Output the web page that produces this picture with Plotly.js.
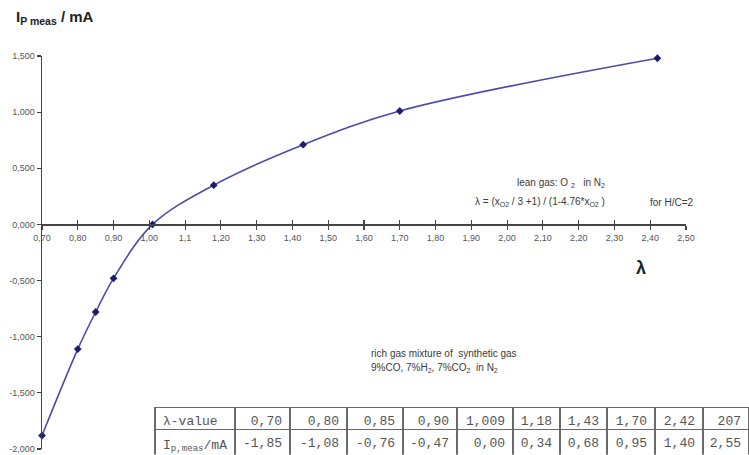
<!DOCTYPE html>
<html>
<head>
<meta charset="utf-8">
<script src="https://cdn.plot.ly/plotly-3.0.1.min.js"></script>
<style>html,body{margin:0;padding:0;background:#fff;}#chart{width:749px;height:455px;}</style>
</head>
<body>
<div id="chart"></div>
<script>
// ---- data ----
const lambdaVals = [0.70, 0.80, 0.85, 0.90, 1.009, 1.18, 1.43, 1.70, 2.42];
const ipMeas     = [-1.88, -1.11, -0.78, -0.48, 0.00, 0.35, 0.71, 1.01, 1.48];

const xTickVals = [0.7,0.8,0.9,1.0,1.1,1.2,1.3,1.4,1.5,1.6,1.7,1.8,1.9,2.0,2.1,2.2,2.3,2.4,2.5];
const xTickText = ['0,70','0,80','0,90','1,00','1,1','1,20','1,30','1,40','1,50','1,60','1,70','1,80','1,90','2,00','2,10','2,20','2,30','2,40','2,50'];
const yTickVals = [-2.0,-1.5,-1.0,-0.5,0.0,0.5,1.0,1.5];
const yTickText = ['-2,000','-1,500','-1,000','-0,500','0,000','0,500','1,000','1,500'];

const tableRowLabels = ['λ-value', 'I<sub>p,meas</sub>/mA'];
const tableLambda = ['0,70','0,80','0,85','0,90','1,009','1,18','1,43','1,70','2,42','207'];
const tableIp     = ['-1,85','-1,08','-0,76','-0,47','0,00','0,34','0,68','0,95','1,40','2,55'];

// ---- layout helpers ----
const W = 749, H = 455, ML = 42, MT = 56;
const PW = W - ML, PH = H - MT;
const px = x => (x - ML) / PW;
const py = y => (H - y) / PH;
const yDom0 = py(449);
const xDom1 = px(686);
const yMin = -2, yMax = 1.5;
const zeroPos = yDom0 + (0 - yMin) / (yMax - yMin) * (1 - yDom0);

const textFont = {family: 'Liberation Sans, Arial, sans-serif', size: 10, color: '#3a3a3a'};
const mono = {family: 'Liberation Mono, Courier New, monospace', size: 13, color: '#555'};

const traces = [
  {
    type: 'scatter', mode: 'lines+markers',
    x: lambdaVals, y: ipMeas,
    line: {color: '#4b4bab', width: 1.6, shape: 'spline', smoothing: 1},
    marker: {symbol: 'diamond', size: 6, color: '#1c1c70'},
    cliponaxis: false, hoverinfo: 'x+y'
  },
  {type: 'scatter', mode: 'markers', x: [], y: [], xaxis: 'x2', yaxis: 'y', showlegend: false},
  {
    type: 'table',
    domain: {x: [px(155), 1], y: [0, py(407.5)]},
    columnwidth: [80,55,57,56,54,56,47,47,48,48,46],
    header: {
      values: [tableRowLabels[0]].concat(tableLambda),
      align: ['left'].concat(tableLambda.map(() => 'right')),
      height: 22,
      font: mono,
      line: {color: '#6a6a6a', width: 1.8},
      fill: {color: '#ffffff'}
    },
    cells: {
      values: [[tableRowLabels[1]]].concat(tableIp.map(v => [v])),
      align: ['left'].concat(tableIp.map(() => 'right')),
      height: 24,
      font: mono,
      line: {color: '#6a6a6a', width: 1.8},
      fill: {color: '#ffffff'}
    }
  }
];

const axisCommon = {
  range: [0.7, 2.5], domain: [0, xDom1],
  anchor: 'free', position: zeroPos,
  showline: true, linecolor: '#444', linewidth: 1.5,
  tickmode: 'array', tickvals: xTickVals, ticktext: xTickText,
  ticklen: 4, tickwidth: 1.2, tickcolor: '#444',
  showgrid: false, zeroline: false,
  tickfont: {family: 'Liberation Sans, Arial, sans-serif', size: 9, color: '#555'}
};

const layout = {
  width: W, height: H,
  margin: {l: ML, r: 0, t: MT, b: 0, pad: 0},
  paper_bgcolor: '#ffffff', plot_bgcolor: 'rgba(0,0,0,0)',
  showlegend: false,
  xaxis: Object.assign({}, axisCommon, {ticks: 'outside'}),
  xaxis2: Object.assign({}, axisCommon, {ticks: 'inside', overlaying: 'x', matches: 'x', showticklabels: false}),
  yaxis: {
    range: [yMin, yMax], domain: [yDom0, 1], anchor: 'x',
    showline: true, linecolor: '#444', linewidth: 1.5,
    ticks: 'outside', ticklen: 4, tickwidth: 1.2, tickcolor: '#444',
    tickmode: 'array', tickvals: yTickVals, ticktext: yTickText,
    showgrid: false, zeroline: false,
    tickfont: {family: 'Liberation Sans, Arial, sans-serif', size: 9, color: '#555'}
  },
  annotations: [
    {xref: 'paper', yref: 'paper', x: px(14), y: py(18), xanchor: 'left', yanchor: 'middle', showarrow: false,
     text: '<b>I<sub>P meas</sub> / mA</b>', font: {family: 'Liberation Sans, Arial, sans-serif', size: 15, color: '#222'}},
    {xref: 'paper', yref: 'paper', x: px(641), y: py(268), xanchor: 'center', yanchor: 'middle', showarrow: false,
     text: '<b>λ</b>', font: {family: 'Liberation Sans, Arial, sans-serif', size: 18, color: '#222'}},
    {xref: 'paper', yref: 'paper', x: px(561), y: py(183), xanchor: 'center', yanchor: 'middle', showarrow: false,
     text: 'lean gas: O <sub>2</sub>   in N<sub>2</sub>', font: textFont},
    {xref: 'paper', yref: 'paper', x: px(540), y: py(202), xanchor: 'center', yanchor: 'middle', showarrow: false,
     text: 'λ = (x<sub>O2</sub> / 3 +1) / (1-4.76*x<sub>O2</sub> )', font: textFont},
    {xref: 'paper', yref: 'paper', x: px(648), y: py(202), xanchor: 'left', yanchor: 'middle', showarrow: false,
     text: 'for H/C=2', font: textFont},
    {xref: 'paper', yref: 'paper', x: px(369), y: py(353), xanchor: 'left', yanchor: 'middle', showarrow: false,
     text: 'rich gas mixture of  synthetic gas', font: textFont},
    {xref: 'paper', yref: 'paper', x: px(369), y: py(368), xanchor: 'left', yanchor: 'middle', showarrow: false,
     text: '9%CO, 7%H<sub>2</sub>, 7%CO<sub>2</sub>  in N<sub>2</sub>', font: textFont}
  ]
};

Plotly.newPlot('chart', traces, layout, {displayModeBar: false, staticPlot: true});
</script>
</body>
</html>
